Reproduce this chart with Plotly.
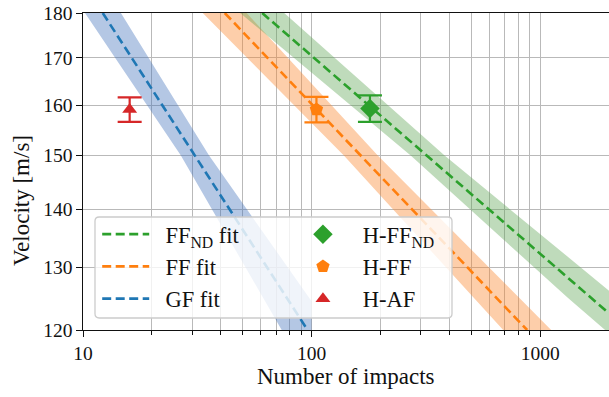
import plotly.graph_objects as go

# ---------------- data ----------------
# fit lines (endpoints in data coordinates)
gf_fit_N = [12.2, 96.0]
gf_fit_V = [180.0, 120.0]
ff_fit_N = [41.7, 877.0]
ff_fit_V = [180.0, 120.0]
ffnd_fit_N = [60.8, 1982.0]
ffnd_fit_V = [180.0, 122.7]

# confidence bands (lower / upper edge in N at given velocities)
gf_band_V_lo = [180.0, 150.0, 120.0]
gf_band_N_lo = [10.2, 26.8, 74.0]
gf_band_V_hi = [180.0, 150.0, 124.5, 120.0]
gf_band_N_hi = [14.65, 35.6, 100.0, 100.0]

ff_band_V = [180.0, 150.0, 120.0]
ff_band_N_lo = [33.4, 138.4, 689.0]
ff_band_N_hi = [52.0, 194.8, 1117.0]

ffnd_band_V = [180.0, 150.0, 125.0, 120.0]
ffnd_band_N_lo = [48.7, 271.4, 1324.0, 1923.0]
ffnd_band_N_hi = [75.9, 381.9, 2191.0, 3177.0]

# measured points
h_af_N, h_af_V, h_af_err = [16.0], [159.1], [2.5]
h_ff_N, h_ff_V, h_ff_err = [105.0], [159.1], [2.6]
h_ffnd_N, h_ffnd_V, h_ffnd_err = [180.0], [159.3], [2.7]

# ticks
x_major = [10, 100, 1000]
x_major_text = ["10", "100", "1000"]
x_minor = [20, 30, 40, 50, 60, 70, 80, 90,
           200, 300, 400, 500, 600, 700, 800, 900, 2000]
y_ticks = [120, 130, 140, 150, 160, 170, 180]

# ---------------- styling ----------------
BLUE, ORANGE, GREEN, RED = "#1f77b4", "#ff7f0e", "#2ca02c", "#d62728"
FONT = "Liberation Serif"
TXT = "#111111"
GRID = "#b9b9b9"
SP = "\u00a0\u00a0"

fig = go.Figure()


def band(N_lo, V_lo, N_hi, V_hi, color):
    fig.add_trace(go.Scatter(
        x=list(N_lo) + list(reversed(N_hi)),
        y=list(V_lo) + list(reversed(V_hi)),
        fill="toself", fillcolor=color, mode="lines",
        line=dict(width=0), hoverinfo="skip", showlegend=False))


band(gf_band_N_lo, gf_band_V_lo, gf_band_N_hi, gf_band_V_hi, "rgba(68,115,188,0.40)")
band(ff_band_N_lo, ff_band_V, ff_band_N_hi, ff_band_V, "rgba(250,132,42,0.40)")
band(ffnd_band_N_lo, ffnd_band_V, ffnd_band_N_hi, ffnd_band_V, "rgba(95,165,85,0.40)")

DASH = "9px,4.5px"


def fit(N, V, color, name):
    fig.add_trace(go.Scatter(
        x=N, y=V, mode="lines", name=SP + name, legend="legend",
        line=dict(color=color, width=2.6, dash=DASH)))


fit(ffnd_fit_N, ffnd_fit_V, GREEN, "FF<sub>ND</sub> fit")
fit(ff_fit_N, ff_fit_V, ORANGE, "FF fit")
fit(gf_fit_N, gf_fit_V, BLUE, "GF fit")


def point(N, V, err, color, symbol, size, name):
    fig.add_trace(go.Scatter(
        x=N, y=V, mode="markers", name=SP + name, legend="legend2",
        marker=dict(color=color, symbol=symbol, size=size, line=dict(width=0)),
        error_y=dict(type="data", array=err, color=color, thickness=2.2, width=12)))


point(h_ffnd_N, h_ffnd_V, h_ffnd_err, GREEN, "diamond", 15, "H-FF<sub>ND</sub>")
point(h_ff_N, h_ff_V, h_ff_err, ORANGE, "pentagon", 14, "H-FF")
point(h_af_N, h_af_V, h_af_err, RED, "triangle-up", 13, "H-AF")

fig.update_xaxes(
    type="log", range=[1, 3.30103],
    tickmode="array", tickvals=x_major, ticktext=x_major_text,
    ticks="outside", ticklen=5.5, tickwidth=1.2, tickcolor=TXT,
    showline=True, linecolor=TXT, linewidth=1.4, mirror=True,
    showgrid=True, gridcolor=GRID, gridwidth=1.1,
    minor=dict(tickmode="array", tickvals=x_minor, ticks="outside", ticklen=3.3,
               tickwidth=1, tickcolor=TXT, showgrid=True, gridcolor=GRID, gridwidth=1.1),
    tickfont=dict(family=FONT, size=19.5, color=TXT),
    zeroline=False,
)
fig.update_yaxes(
    type="log", range=[2.0791812, 2.2552725],
    tickmode="array", tickvals=y_ticks, ticktext=[str(v) for v in y_ticks],
    ticks="outside", ticklen=5.5, tickwidth=1.2, tickcolor=TXT,
    showline=True, linecolor=TXT, linewidth=1.4, mirror=False,
    showgrid=True, gridcolor=GRID, gridwidth=1.1,
    tickfont=dict(family=FONT, size=19.5, color=TXT),
    zeroline=False,
)

fig.add_annotation(text="Number of impacts", xref="paper", yref="paper",
                   x=0.5, y=-0.148, xanchor="center", yanchor="middle",
                   showarrow=False, font=dict(family=FONT, size=23, color=TXT))
fig.add_annotation(text="Velocity [m/s]", xref="paper", yref="paper",
                   x=-0.118, y=0.41, xanchor="center", yanchor="middle", textangle=-90,
                   showarrow=False, font=dict(family=FONT, size=23, color=TXT))

# legend frame (rounded rectangle) in paper coordinates
x0, x1, y0, y1 = 0.0228, 0.7015, 0.0379, 0.3565
rx, ry = 0.008, 0.013
frame = (f"M {x0+rx},{y0} L {x1-rx},{y0} Q {x1},{y0} {x1},{y0+ry} "
         f"L {x1},{y1-ry} Q {x1},{y1} {x1-rx},{y1} L {x0+rx},{y1} "
         f"Q {x0},{y1} {x0},{y1-ry} L {x0},{y0+ry} Q {x0},{y0} {x0+rx},{y0} Z")
fig.add_shape(type="path", path=frame, xref="paper", yref="paper", layer="above",
              fillcolor="rgba(255,255,255,0.8)", line=dict(color="#cccccc", width=1.3))

legend_common = dict(
    orientation="v", xanchor="left", yanchor="top", itemwidth=47,
    font=dict(family=FONT, size=22.5, color=TXT),
    bgcolor="rgba(0,0,0,0)", borderwidth=0, tracegroupgap=0,
)
fig.update_layout(
    width=609, height=397,
    margin=dict(l=83, r=0, t=13, b=67),
    paper_bgcolor="white", plot_bgcolor="white",
    font=dict(family=FONT, color=TXT),
    legend=dict(x=0.027, y=0.369, **legend_common),
    legend2=dict(x=0.402, y=0.369, **legend_common),
)

fig.write_html("out.html", config={"displayModeBar": False}, post_script=(
    "document.body.style.margin='0';document.body.style.padding='0';"
    "document.body.style.overflow='hidden';"))
